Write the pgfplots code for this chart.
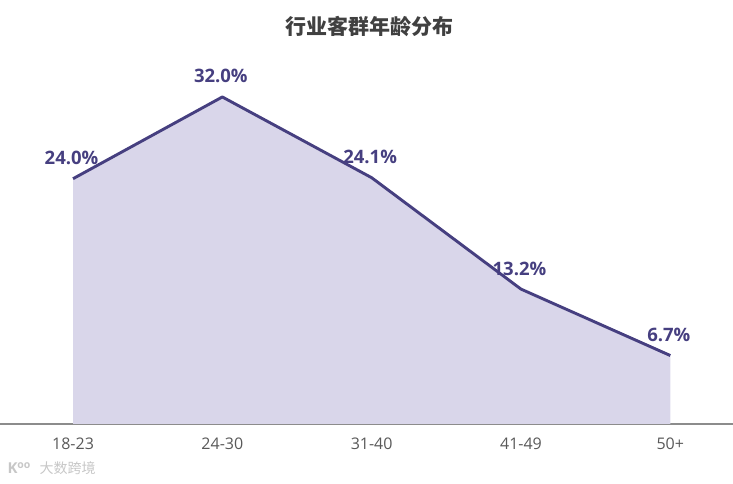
\documentclass[border=0pt]{standalone}
\usepackage{fontspec}
\setmainfont{Open Sans}
\newfontfamily\cjk{Noto Sans CJK SC}
\usepackage{pgfplots}
\pgfplotsset{compat=1.18}
\definecolor{linec}{HTML}{463F80}
\definecolor{fillc}{HTML}{D9D6EA}
\definecolor{axc}{HTML}{8C8C8C}
\definecolor{tickc}{HTML}{595959}
\definecolor{titc}{HTML}{404040}
\begin{document}
\begin{tikzpicture}
\path[use as bounding box] (0pt,-60pt) rectangle (733pt,424pt);
\begin{axis}[
  at={(0pt,0pt)}, anchor=south west,
  scale only axis, width=733pt, height=408.8pt,
  xmin=-0.489, xmax=4.42, ymin=0, ymax=40,
  axis x line*=bottom, hide y axis,
  x axis line style={draw=axc, line width=1.8pt, -},
  xtick={0,1,2,3,4},
  xticklabels={18-23,24-30,31-40,41-49,50+},
  major tick length=0pt,
  xticklabel style={font=\fontsize{16}{19}\selectfont, text=tickc, yshift=-10pt},
  clip=false,
]
\addplot[draw=none, fill=fillc] coordinates {(0,24.0) (1,32.0) (2,24.1) (3,13.2) (4,6.7)} \closedcycle;
\addplot[linec, line width=2.9pt, line join=round,
  nodes near coords={\pgfmathprintnumber[fixed,fixed zerofill,precision=1,assume math mode=true]{\pgfplotspointmeta}\%},
  every node near coord/.append style={font=\fontsize{18.5}{22}\bfseries\selectfont, text=linec, anchor=south, yshift=9pt, xshift=-1.5pt}]
  coordinates {(0,24.0) (1,32.0) (2,24.1) (3,13.2) (4,6.7)};
\end{axis}
\node[font=\cjk\fontsize{21}{24}\bfseries\selectfont, text=titc] at (369pt,397pt) {行业客群年龄分布};
\node[font=\fontsize{15}{18}\bfseries\selectfont, text=black!22, anchor=west] at (4pt,-44pt) {K\textsuperscript{oo}};
\node[font=\cjk\fontsize{14}{16}\selectfont, text=black!22, anchor=west] at (36pt,-44pt) {大数跨境};
\end{tikzpicture}
\end{document}
